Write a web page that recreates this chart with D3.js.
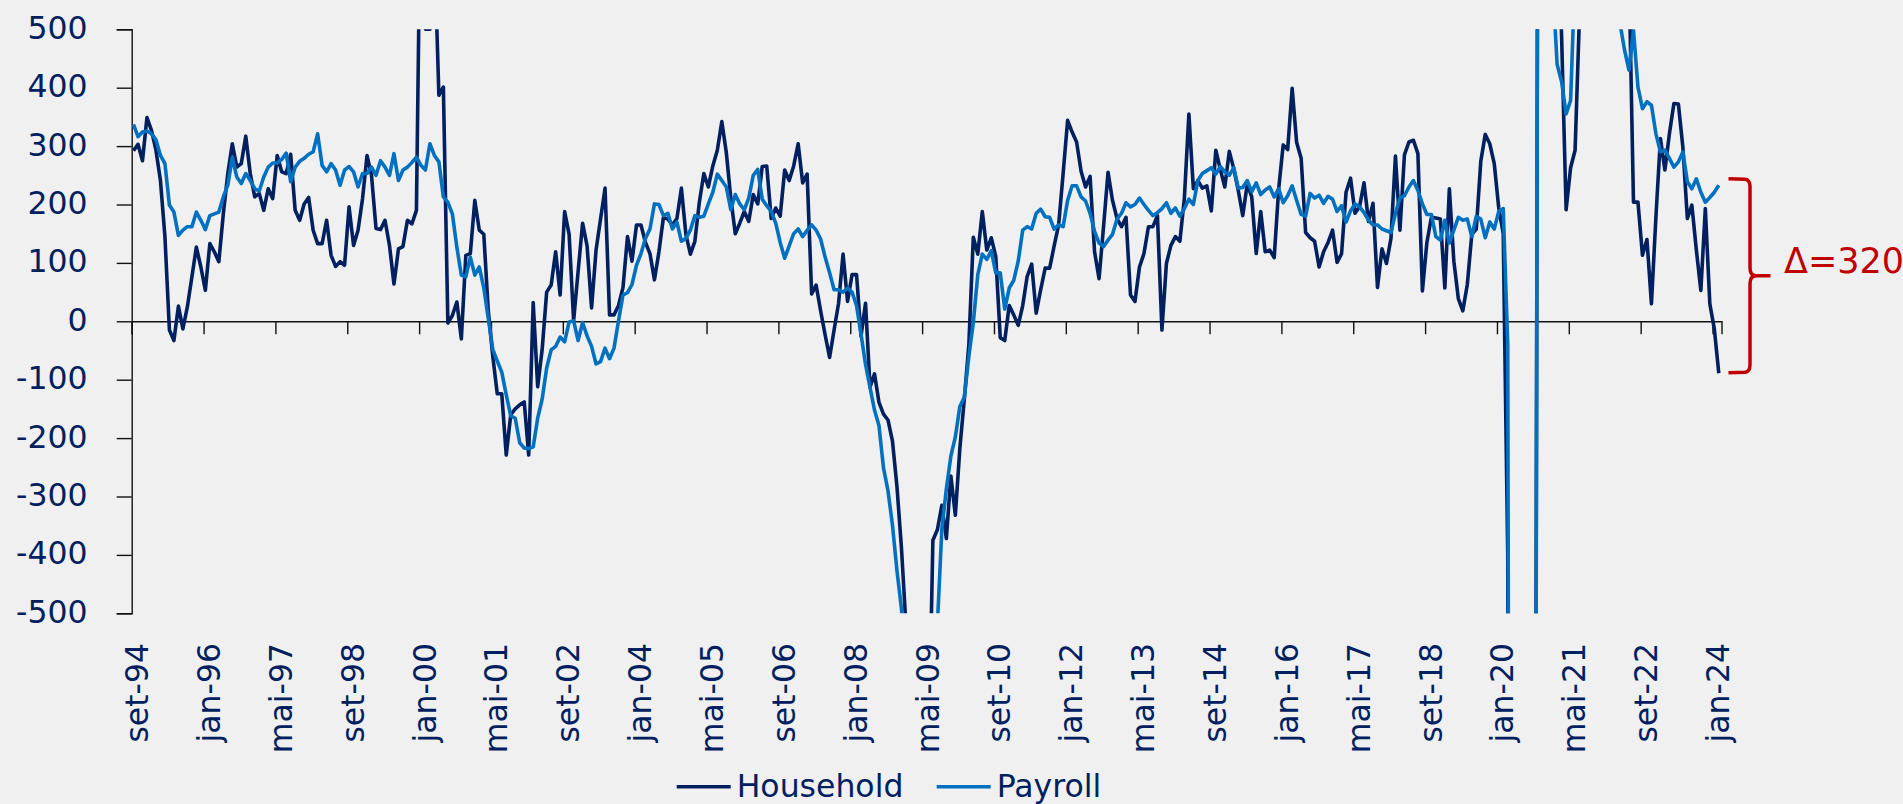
<!DOCTYPE html>
<html>
<head>
<meta charset="utf-8">
<script src="https://cdn.jsdelivr.net/npm/d3@7"></script>
<style>
  body { margin: 0; background: #f0f0f0; }
  svg { display: block; }
</style>
</head>
<body>
<div id="chart"></div>
<script>
// monthly values, first month = set-94
var household = [
  292, 303, 275, 349, 327, 293, 241, 145, -15, -33,
  26, -13, 25, 76, 127, 93, 53, 133, 119, 102,
  184, 253, 304, 264, 270, 317, 253, 213, 219, 190,
  227, 210, 284, 256, 253, 286, 190, 173, 201, 212,
  156, 133, 133, 173, 113, 94, 102, 96, 196, 130,
  156, 210, 284, 250, 159, 157, 173, 130, 64, 124,
  128, 173, 167, 190, 800, 500, 500, 640, 387, 401,
  -3, 10, 33, -30, 113, 116, 207, 156, 149, 18,
  -60, -124, -124, -229, -160, -150, -143, -138, -229, 32,
  -112, -48, 50, 62, 119, 45, 188, 149, 1, 85,
  168, 129, 23, 122, 175, 228, 11, 11, 27, 58,
  145, 103, 165, 165, 135, 116, 71, 119, 178, 175,
  165, 176, 228, 149, 115, 137, 204, 253, 230, 266,
  293, 342, 289, 211, 150, 168, 188, 171, 217, 201,
  265, 266, 176, 194, 180, 259, 241, 266, 304, 237,
  252, 47, 62, 18, -23, -62, -15, 31, 115, 34,
  80, 80, -25, 31, -113, -90, -139, -159, -169, -205,
  -283, -388, -520, -640, -700, -690, -650, -760, -375, -357,
  -315, -372, -265, -332, -218, -133, -41, 144, 115, 188,
  122, 143, 111, -28, -33, 27, 11, -7, 27, 77,
  98, 14, 54, 91, 91, 129, 165, 253, 344, 324,
  307, 257, 230, 248, 119, 73, 162, 255, 207, 176,
  162, 178, 45, 34, 93, 116, 162, 162, 181, -15,
  99, 130, 145, 137, 211, 355, 227, 241, 228, 232,
  189, 293, 260, 230, 291, 261, 224, 181, 235, 213,
  116, 188, 119, 122, 109, 227, 302, 294, 399, 306,
  279, 152, 143, 137, 93, 119, 135, 156, 101, 116,
  221, 245, 185, 196, 237, 171, 202, 58, 124, 99,
  142, 283, 156, 285, 307, 310, 287, 52, 135, 178,
  177, 175, 57, 227, 103, 39, 18, 63, 149, 158,
  274, 320, 304, 270, 194, 150, -400, -4000, -3500, -2700,
  -2500, -2300, -1500, 1800, 1200, 900, 800, 700, 487, 191,
  263, 293, 530, 850, 900, 800, 750, 900, 850, 700,
  650, 750, 700, 600, 204, 204, 113, 140, 30, 179,
  313, 259, 321, 373, 372, 298, 176, 199, 122, 53,
  193, 30, -13, -89
];

var payroll = [
  337, 316, 324, 326, 321, 311, 284, 270, 199, 187,
  147, 156, 162, 162, 187, 173, 157, 181, 184, 187,
  213, 233, 281, 247, 236, 253, 241, 227, 223, 247,
  264, 271, 271, 277, 288, 239, 264, 274, 279, 286,
  290, 321, 267, 256, 270, 259, 233, 259, 265, 256,
  230, 253, 253, 264, 250, 275, 264, 250, 287, 241,
  259, 264, 272, 281, 267, 259, 304, 284, 273, 213,
  204, 184, 127, 79, 76, 110, 79, 93, 57, 5,
  -48, -68, -87, -126, -162, -166, -208, -217, -218, -215,
  -166, -133, -80, -49, -43, -27, -35, -1, 1, -33,
  -2, -25, -43, -73, -69, -46, -64, -46, 1, 45,
  49, 63, 96, 116, 142, 158, 201, 200, 181, 185,
  158, 170, 137, 142, 156, 181, 178, 180, 201, 221,
  252, 241, 230, 191, 217, 201, 191, 211, 250, 260,
  209, 198, 188, 168, 135, 108, 129, 150, 158, 145,
  156, 165, 156, 141, 110, 83, 54, 54, 50, 57,
  50, 27, -22, -74, -113, -152, -179, -251, -290, -349,
  -427, -492, -600, -700, -760, -780, -740, -680, -560, -520,
  -355, -287, -231, -198, -146, -130, -61, -2, 80, 115,
  106, 121, 83, 83, 21, 57, 70, 103, 156, 162,
  158, 185, 192, 179, 178, 158, 165, 162, 207, 232,
  232, 213, 206, 185, 154, 134, 128, 139, 149, 175,
  185, 203, 196, 200, 211, 200, 190, 181, 186, 193,
  203, 185, 194, 180, 193, 209, 200, 241, 253, 258,
  263, 252, 265, 256, 250, 263, 228, 229, 241, 222,
  237, 217, 225, 230, 213, 227, 203, 215, 232, 207,
  183, 180, 219, 211, 216, 202, 214, 209, 188, 198,
  170, 189, 201, 196, 186, 173, 165, 165, 158, 155,
  152, 185, 211, 215, 230, 241, 224, 201, 183, 183,
  145, 139, 173, 134, 156, 178, 173, 175, 145, 180,
  175, 143, 170, 158, 188, 193, -40, -3450, -2950, -2150,
  -1870, -1630, -1800, 2060, 1640, 780, 580, 440, 410, 355,
  378, 600, 640, 590, 560, 610, 650, 620, 560, 540,
  560, 510, 465, 430, 498, 401, 364, 376, 370, 321,
  290, 293, 279, 264, 273, 290, 239, 227, 244, 221,
  204, 212, 221, 233
];

var tickLabels = ["set-94","jan-96","mai-97","set-98","jan-00","mai-01","set-02","jan-04",
  "mai-05","set-06","jan-08","mai-09","set-10","jan-12","mai-13","set-14","jan-16",
  "mai-17","set-18","jan-20","mai-21","set-22","jan-24"];
var tickStep = 16;          // months between labels
var yTicks = [-500,-400,-300,-200,-100,0,100,200,300,400,500];
var seriesNames = ["Household", "Payroll"];
var deltaLabel = "Δ=320";

var W = 1903, H = 804;
var navy = "#002060", blue = "#0070c0", red = "#c00000";
var font = "'DejaVu Sans', sans-serif";

var plot = {left: 131.7, right: 1721.5, top: 29.3, bottom: 613.3};

var svg = d3.select("#chart").append("svg")
    .attr("width", W)
    .attr("height", H)
    .style("background", "#f0f0f0");

var x = d3.scaleLinear().domain([0, 354]).range([plot.left, plot.right]);
var y = d3.scaleLinear().domain([-500, 500]).range([plot.bottom, plot.top]);

svg.append("clipPath").attr("id", "clip")
  .append("rect")
    .attr("x", plot.left).attr("y", plot.top)
    .attr("width", plot.right - plot.left).attr("height", plot.bottom - plot.top);

// y axis (plain hyphen for negatives, like the source)
var yAxis = d3.axisLeft(y)
    .tickValues(yTicks)
    .tickSize(15)
    .tickFormat(function(d) { return String(d); });
var gy = svg.append("g")
    .attr("transform", "translate(" + plot.left + ",0)")
    .call(yAxis);
gy.select(".domain").attr("stroke", "#111").attr("stroke-width", 1.4);
gy.selectAll(".tick line").attr("stroke", "#111").attr("stroke-width", 1.4);
gy.selectAll(".tick text")
    .attr("fill", navy)
    .attr("font-family", font)
    .attr("font-size", 31.5)
    .attr("dy", 9)
    .attr("x", 87.5 - plot.left);

// x axis through zero
var tickMonths = tickLabels.map(function(d, i) { return i * tickStep; });
var xAxis = d3.axisBottom(x).tickValues(tickMonths).tickSize(13).tickFormat("");
var gx = svg.append("g")
    .attr("transform", "translate(0," + y(0) + ")")
    .call(xAxis);
gx.select(".domain").attr("stroke", "#111").attr("stroke-width", 1.4);
gx.selectAll(".tick line").attr("stroke", "#111").attr("stroke-width", 1.4);

// rotated date labels under the plot
svg.append("g").selectAll("text")
    .data(tickLabels)
    .enter().append("text")
    .attr("transform", function(d, i) {
      return "translate(" + (x(tickMonths[i]) + 16.5) + ",643) rotate(-90)";
    })
    .attr("text-anchor", "end")
    .attr("fill", navy)
    .attr("font-family", font)
    .attr("font-size", 31.5)
    .text(function(d) { return d; });

// lines
var line = d3.line()
    .x(function(d, i) { return x(i + 0.4); })
    .y(function(d) { return y(d); });

var lines = svg.append("g").attr("clip-path", "url(#clip)");
lines.append("path")
    .datum(household)
    .attr("fill", "none")
    .attr("stroke", navy)
    .attr("stroke-width", 3.6)
    .attr("stroke-linejoin", "round")
    .attr("d", line);
lines.append("path")
    .datum(payroll)
    .attr("fill", "none")
    .attr("stroke", blue)
    .attr("stroke-width", 3.6)
    .attr("stroke-linejoin", "round")
    .attr("d", line);

// legend
var legend = svg.append("g");
var legendItems = [{name: seriesNames[0], color: navy, x: 676.7},
                   {name: seriesNames[1], color: blue, x: 936.7}];
legendItems.forEach(function(d) {
  legend.append("line")
      .attr("x1", d.x).attr("x2", d.x + 54)
      .attr("y1", 786.7).attr("y2", 786.7)
      .attr("stroke", d.color).attr("stroke-width", 3.6);
  legend.append("text")
      .attr("x", d.x + 60).attr("y", 797)
      .attr("fill", navy)
      .attr("font-family", font)
      .attr("font-size", 31.5)
      .text(d.name);
});

// brace showing the gap between the last two readings
var lastP = payroll[payroll.length - 1], lastH = household[household.length - 1];
var bTop = y(lastP + 11), bBot = y(lastH + 1), bMid = (bTop + bBot) / 2;
var bx0 = plot.right + 7, bx1 = plot.right + 28.5, bx2 = plot.right + 49;
var brace = "M" + bx0 + "," + bTop +
  " L" + (bx1 - 5) + "," + (bTop + 0.5) +
  " Q" + bx1 + "," + (bTop + 1) + " " + bx1 + "," + (bTop + 8) +
  " L" + bx1 + "," + (bMid - 8) +
  " Q" + bx1 + "," + bMid + " " + (bx1 + 6) + "," + bMid +
  " L" + bx2 + "," + bMid +
  " M" + (bx1 + 6) + "," + bMid +
  " Q" + bx1 + "," + bMid + " " + bx1 + "," + (bMid + 8) +
  " L" + bx1 + "," + (bBot - 8) +
  " Q" + bx1 + "," + (bBot - 1) + " " + (bx1 - 5) + "," + (bBot - 0.5) +
  " L" + bx0 + "," + bBot;
svg.append("path")
    .attr("d", brace)
    .attr("fill", "none")
    .attr("stroke", red)
    .attr("stroke-width", 3.5);

svg.append("text")
    .attr("x", 1784).attr("y", 273)
    .attr("fill", red)
    .attr("font-family", font)
    .attr("font-size", 35)
    .text(deltaLabel);
</script>
</body>
</html>
